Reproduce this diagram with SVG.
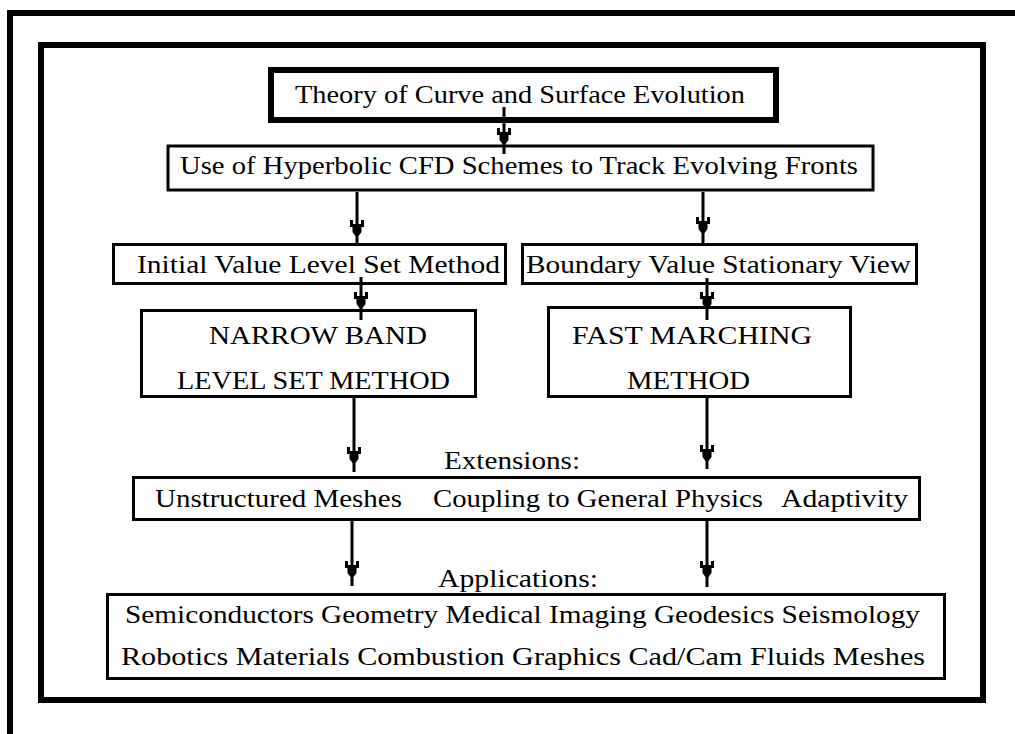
<svg xmlns="http://www.w3.org/2000/svg" xmlns:xlink="http://www.w3.org/1999/xlink" width="1015" height="734" viewBox="0 0 1015 734">
<style>
.frame{fill:none;stroke:#000;stroke-width:6}
.box{fill:#fff;stroke:#000;stroke-width:3}
.thick{fill:#fff;stroke:#000;stroke-width:6}
.t{font-family:"Liberation Serif","Times New Roman",serif;font-size:26px;fill:#000}
.c{stroke:#000;stroke-width:3;fill:none}
</style>
<defs>
<g id="ah">
<rect x="-7" y="0" width="3" height="7" fill="#000"/>
<rect x="4" y="0" width="3" height="7" fill="#000"/>
<polygon points="-4.5,4 4.5,4 4.5,12 1.5,16 -1.5,16 -4.5,12" fill="#000"/>
</g>
</defs>
<rect width="1015" height="734" fill="#fff"/>
<g id="frames">
<rect class="frame" x="10" y="13" width="1100" height="1000"/>
<rect class="frame" x="41" y="45" width="942" height="655"/>
</g>
<g id="n1">
<rect class="thick" x="271" y="70" width="505" height="50"/>
<text class="t" x="295" y="103" textLength="450" lengthAdjust="spacingAndGlyphs">Theory of Curve and Surface Evolution</text>
</g>
<g id="n2">
<rect class="box" x="168" y="146" width="705" height="44"/>
<text class="t" x="180" y="174" textLength="678" lengthAdjust="spacingAndGlyphs">Use of Hyperbolic CFD Schemes to Track Evolving Fronts</text>
</g>
<g id="n3">
<rect class="box" x="113.5" y="244.5" width="392" height="39"/>
<text class="t" x="137" y="273" textLength="363" lengthAdjust="spacingAndGlyphs">Initial Value Level Set Method</text>
</g>
<g id="n4">
<rect class="box" x="522.5" y="244.5" width="394" height="39"/>
<text class="t" x="526" y="273" textLength="385" lengthAdjust="spacingAndGlyphs">Boundary Value Stationary View</text>
</g>
<g id="n5">
<rect class="box" x="141.5" y="310.5" width="334" height="86"/>
<text class="t" x="209" y="344" textLength="218" lengthAdjust="spacingAndGlyphs">NARROW BAND</text>
<text class="t" x="177" y="389" textLength="273" lengthAdjust="spacingAndGlyphs">LEVEL SET METHOD</text>
</g>
<g id="n6">
<rect class="box" x="548.5" y="307.5" width="302" height="89"/>
<text class="t" x="572" y="344" textLength="240" lengthAdjust="spacingAndGlyphs">FAST MARCHING</text>
<text class="t" x="627" y="389" textLength="123" lengthAdjust="spacingAndGlyphs">METHOD</text>
</g>
<g id="n7">
<text class="t" x="444" y="469" textLength="136" lengthAdjust="spacingAndGlyphs">Extensions:</text>
<rect class="box" x="133.5" y="477.5" width="786" height="42"/>
<text class="t" x="155" y="507" textLength="247" lengthAdjust="spacingAndGlyphs">Unstructured Meshes</text>
<text class="t" x="433" y="507" textLength="330" lengthAdjust="spacingAndGlyphs">Coupling to General Physics</text>
<text class="t" x="781" y="507" textLength="127" lengthAdjust="spacingAndGlyphs">Adaptivity</text>
</g>
<g id="n8">
<text class="t" x="438" y="587" textLength="160" lengthAdjust="spacingAndGlyphs">Applications:</text>
<rect class="box" x="107.5" y="594.5" width="837" height="84"/>
<text class="t" x="125" y="623" textLength="795" lengthAdjust="spacingAndGlyphs">Semiconductors Geometry Medical Imaging Geodesics Seismology</text>
<text class="t" x="121" y="665" textLength="804" lengthAdjust="spacingAndGlyphs">Robotics Materials Combustion Graphics Cad/Cam Fluids Meshes</text>
</g>
<g id="connectors">
<line class="c" x1="504" y1="107" x2="504" y2="154"/>
<use xlink:href="#ah" x="504" y="128"/>
<line class="c" x1="357" y1="192" x2="357" y2="243"/>
<use xlink:href="#ah" x="357" y="220"/>
<line class="c" x1="703" y1="192" x2="703" y2="245"/>
<use xlink:href="#ah" x="703" y="217"/>
<line class="c" x1="361" y1="277" x2="361" y2="320"/>
<use xlink:href="#ah" x="361" y="292"/>
<line class="c" x1="707" y1="278" x2="707" y2="320"/>
<use xlink:href="#ah" x="707" y="292"/>
<line class="c" x1="354" y1="398" x2="354" y2="472"/>
<use xlink:href="#ah" x="354" y="447"/>
<line class="c" x1="707" y1="398" x2="707" y2="469"/>
<use xlink:href="#ah" x="707" y="445"/>
<line class="c" x1="352" y1="521" x2="352" y2="586"/>
<use xlink:href="#ah" x="352" y="561"/>
<line class="c" x1="707" y1="521" x2="707" y2="587"/>
<use xlink:href="#ah" x="707" y="561"/>
</g>
</svg>
